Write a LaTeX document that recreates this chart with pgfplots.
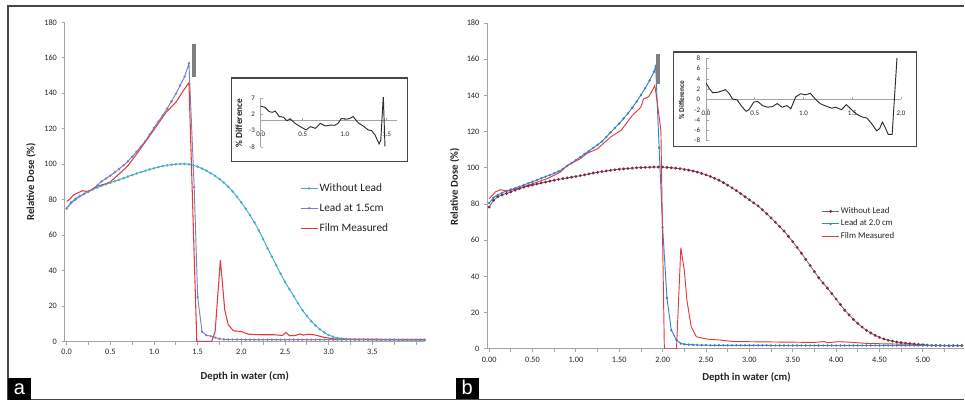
\documentclass[border=0pt]{standalone}
\usepackage{pgfplots}
\pgfplotsset{compat=1.18}
\usepackage{fontspec}
\setmainfont{Carlito}
\newfontfamily\arialf{Liberation Sans}
\definecolor{cyanA}{RGB}{75,172,198}
\definecolor{leadA}{RGB}{122,128,200}
\definecolor{redA}{RGB}{228,58,60}
\definecolor{maroonB}{RGB}{140,35,60}
\definecolor{lineB}{RGB}{110,100,105}
\definecolor{blueB}{RGB}{55,130,200}
\definecolor{axgray}{RGB}{165,165,165}
\definecolor{framegray}{RGB}{70,70,70}
\definecolor{txt}{RGB}{35,35,35}
\definecolor{insetc}{RGB}{45,45,45}
\pgfplotsset{
  mainax/.style={
    scale only axis, anchor=south west,
    axis x line*=bottom, axis y line*=left,
    axis line style={axgray, line width=0.8pt},
    tick style={axgray, line width=0.6pt},
    tick align=outside, major tick length=2.5pt, minor tick length=2.5pt,
    tick label style={font=\fontsize{6.2}{7}\selectfont, text=txt},
    /pgf/number format/assume math mode=true,
    label style={font=\bfseries\fontsize{8}{9}\selectfont, text=txt},
    ytick={0,20,...,180},
    legend cell align=left,
  },
  insetax/.style={
    scale only axis, anchor=south west,
    axis x line*=middle, axis y line*=left,
    axis line style={axgray, line width=0.6pt},
    tick style={axgray, line width=0.5pt},
    major tick length=2pt,
    hide obscured x ticks=false, hide obscured y ticks=false,
    tick label style={font=\fontsize{5.2}{6}\selectfont, text=txt},
    /pgf/number format/assume math mode=true,
    xticklabel style={/pgf/number format/fixed, /pgf/number format/fixed zerofill, /pgf/number format/precision=1, /tikz/yshift=-5pt},
    yticklabel style={/tikz/xshift=-1pt},
  },
  /pgfplots/legend image code/.code={\draw[mark repeat=2,mark phase=2,#1] plot coordinates {(0pt,0pt)(6.4pt,0pt)(12.8pt,0pt)};},
}
\begin{document}
\begin{tikzpicture}[x=1pt,y=1pt]
\path (0,0) rectangle (723.75,302.25);
\draw[framegray, line width=1pt] (723.75,297.75) -- (6,297.75) -- (6,2.25) -- (723.75,2.25);

% ---------------- panel a ----------------
\begin{axis}[mainax, at={(48.75pt,45.975pt)}, width=270pt, height=239.55pt,
  xmin=-0.02, xmax=4.1, ymin=0, ymax=180,
  xtick={0,0.5,1,1.5,2,2.5,3,3.5,4},
  xticklabels={0.0,0.5,1.0,1.5,2.0,2.5,3.0,3.5,{}},
  minor xtick={0.25,0.75,1.25,1.75,2.25,2.75,3.25,3.75},
  xlabel={Depth in water (cm)}, ylabel={Relative Dose (\%)},
  xlabel style={at={(axis description cs:0.5,-0.1106)}, anchor=center},
  ylabel style={at={(axis description cs:-0.0944,0.5)}, anchor=center},
  legend style={at={(0.653,0.5)}, anchor=north west, draw=none, fill=none,
    font=\fontsize{8.5}{9}\selectfont, text=txt, row sep=5.5pt, inner sep=0pt,
    nodes={inner sep=1pt}},
]
\addplot[cyanA, line width=0.7pt, mark=*, mark size=0.55pt] coordinates {
(0.0,75)(0.05,78.5)(0.1,80.5)(0.15,82.1)(0.2,83.3)(0.25,84.6)(0.3,85.8)(0.35,86.8)(0.4,87.8)(0.45,88.7)
(0.5,89.5)(0.55,90.35)(0.6,91.2)(0.65,92.1)(0.7,93)(0.75,93.85)(0.8,94.7)(0.85,95.5)(0.9,96.3)(0.95,97)
(1.0,97.7)(1.05,98.3)(1.1,98.9)(1.15,99.3)(1.2,99.7)(1.25,99.95)(1.3,100.1)(1.35,100.1)(1.4,99.9)(1.45,99.3)
(1.5,98.6)(1.55,97.5)(1.6,96.3)(1.65,94.9)(1.7,93.4)(1.75,91.6)(1.8,89.6)(1.85,87.2)(1.9,84.6)(1.95,81.6)
(2.0,78.4)(2.05,74.9)(2.1,71.2)(2.15,67.1)(2.2,62.7)(2.25,57.7)(2.3,52.6)(2.35,47.8)(2.4,43)(2.45,38.2)
(2.5,33.6)(2.55,29.5)(2.6,25.6)(2.65,21.5)(2.7,17.6)(2.75,14.4)(2.8,11.4)(2.85,9.0)(2.9,6.8)(2.95,5.0)
(3.0,3.6)(3.05,2.7)(3.1,2.0)(3.15,1.7)(3.2,1.4)(3.25,1.25)(3.3,1.1)(3.35,1.05)(3.4,1.0)(3.45,0.95)
(3.5,0.9)(3.55,0.9)(3.6,0.9)(3.65,0.9)(3.7,0.9)(3.75,0.85)(3.8,0.8)(3.85,0.8)(3.9,0.8)(3.95,0.8)
(4.0,0.8)(4.05,0.8)(4.1,0.8)};
\addlegendentry{Without Lead}
\addplot[leadA, line width=0.7pt, mark=*, mark size=0.5pt] coordinates {
(0,75)(0.05,78)(0.1,80)(0.15,81.8)(0.2,83.2)(0.25,84.6)(0.3,86)(0.35,88)(0.4,90.3)(0.45,91.9)
(0.5,93.5)(0.55,95.4)(0.6,97.3)(0.65,99.3)(0.7,101.5)(0.75,104.2)(0.8,107)(0.85,110)(0.9,113)(0.95,116.7)
(1.0,120.5)(1.05,124)(1.1,127.5)(1.15,131.3)(1.2,135.5)(1.25,139.7)(1.3,144.5)(1.35,149.3)(1.4,156.8)(1.46,87)
(1.50,25)(1.55,5.5)(1.6,3.5)(1.65,3)(1.7,2.2)(1.75,1.5)(1.8,1.2)(1.85,1.1)(1.9,1.1)(1.95,1.1)
(2.0,1.1)(2.05,1.0)(2.1,1.0)(2.15,1.0)(2.2,1.0)(2.25,1.0)(2.3,1.0)(2.35,1.0)(2.4,1.0)(2.45,1.0)
(2.5,1.0)(2.55,1.0)(2.6,1.0)(2.65,1.0)(2.7,1.0)(2.75,1.0)(2.8,1.0)(2.85,1.0)(2.9,1.0)(2.95,1.0)
(3.0,1.0)(3.05,1.0)(3.1,1.0)(3.15,1.0)(3.2,1.0)(3.25,1.0)(3.3,1.0)(3.35,1.0)(3.4,1.0)(3.45,1.0)
(3.5,1.0)(3.55,1.0)(3.6,1.0)(3.65,1.0)(3.7,1.0)(3.75,1.0)(3.8,1.0)(3.85,1.0)(3.9,1.0)(3.95,1.0)
(4.0,1.0)(4.05,1.0)(4.1,1.0)};
\addlegendentry{Lead at 1.5cm}
\addplot[redA, line width=0.8pt] coordinates {
(0,79)(0.03,80)(0.08,82.7)(0.18,85)(0.25,84.5)(0.35,87.7)(0.42,88.5)(0.5,90)(0.61,94.9)(0.7,99)
(0.835,108)(0.95,116)(1.064,124)(1.14,129.3)(1.255,135.2)(1.33,141)(1.40,146)(1.49,0)(1.66,0)
(1.70,5.6)(1.76,46)(1.81,17.8)(1.85,9.4)(1.91,6)(2.0,5.6)(2.08,4.1)(2.22,3.8)(2.37,3.8)(2.47,3.4)
(2.51,5.1)(2.55,3.2)(2.62,3.4)(2.67,4.3)(2.71,3.6)(2.77,4.1)(2.85,3.6)(2.94,2.4)(3.06,1.5)(3.29,1.3)(4.09,1.1)};
\addlegendentry{Film Measured}
\addplot[gray, line width=3pt, forget plot] coordinates {(1.455,149)(1.455,168)};
\end{axis}

% inset a
\draw[framegray, line width=0.9pt, fill=white] (174,243.75) rectangle (306,180.75);
\begin{axis}[insetax, at={(195.75pt,192pt)}, width=102pt, height=36.75pt,
  xmin=0, xmax=1.62, ymin=-8, ymax=7,
  xtick={0,0.5,1,1.5}, ytick={-8,-3,2,7},
  ylabel={\% Difference},
  ylabel style={at={(axis description cs:-0.162,0.49)}, anchor=center, font=\bfseries\fontsize{7}{8}\selectfont, text=txt},
]
\addplot[insetc, line width=0.7pt] coordinates {
(0,4.5)(0.05,4.1)(0.10,2.8)(0.14,2.6)(0.17,3.0)(0.22,1.3)(0.27,1.1)(0.31,0.0)(0.35,0.6)(0.41,-0.8)
(0.47,-1.8)(0.54,-2.8)(0.59,-1.8)(0.65,-2.3)(0.71,-0.8)(0.77,-1.6)(0.83,-1.3)(0.88,-1.4)(0.92,-0.8)(0.96,0.7)
(1.02,0.5)(1.06,0.7)(1.10,1.3)(1.16,-0.6)(1.22,-1.6)(1.28,-2.8)(1.32,-3)(1.36,-4.3)(1.41,-7.1)(1.43,-5.9)
(1.46,7.6)(1.48,-7.9)};
\end{axis}

% ---------------- panel b ----------------
\begin{axis}[mainax, at={(365.8pt,40.5pt)}, width=358.05pt, height=244.5pt,
  xmin=-0.02, xmax=5.48, ymin=0, ymax=180,
  xtick={0,0.5,1,1.5,2,2.5,3,3.5,4,4.5,5},
  xticklabels={0.00,0.50,1.00,1.50,2.00,2.50,3.00,3.50,4.00,4.50,5.00},
  minor xtick={0.25,0.75,1.25,1.75,2.25,2.75,3.25,3.75,4.25,4.75,5.25},
  xlabel={Depth in water (cm)}, ylabel={Relative Dose (\%)},
  xlabel style={at={(axis description cs:0.543,-0.089)}, anchor=center},
  ylabel style={at={(axis description cs:-0.0684,0.497)}, anchor=center},
  legend style={at={(0.700,0.439)}, anchor=north west, draw=none, fill=none,
    font=\fontsize{6.6}{7}\selectfont, text=txt, row sep=1.3pt, inner sep=0pt,
    nodes={inner sep=1pt}},
]
\addplot[lineB, line width=0.6pt, mark=*, mark size=0.75pt, mark options={maroonB, fill=maroonB}] coordinates {
(0.0,78.3)(0.05,82)(0.1,84)(0.15,85)(0.2,85.8)(0.25,86.7)(0.3,87.6)(0.35,88.5)(0.4,89.3)(0.45,89.9)
(0.5,90.5)(0.55,91.05)(0.6,91.6)(0.65,92.1)(0.7,92.6)(0.75,93.1)(0.8,93.6)(0.85,94.0)(0.9,94.4)(0.95,94.8)
(1.0,95.2)(1.05,95.65)(1.1,96.1)(1.15,96.6)(1.2,97.1)(1.25,97.5)(1.3,97.9)(1.35,98.25)(1.4,98.6)(1.45,98.9)
(1.5,99.2)(1.55,99.4)(1.6,99.6)(1.65,99.8)(1.7,100)(1.75,100.1)(1.8,100.2)(1.85,100.3)(1.9,100.4)(1.95,100.4)
(2.0,100.4)(2.05,100.2)(2.1,100)(2.15,99.8)(2.2,99.5)(2.25,99.1)(2.3,98.7)(2.35,98.2)(2.4,97.6)(2.45,96.9)
(2.5,96.1)(2.55,95.2)(2.6,94.2)(2.65,93.1)(2.7,91.8)(2.75,90.4)(2.8,88.9)(2.85,87.4)(2.9,85.7)(2.95,84.0)
(3.0,82.3)(3.05,80.6)(3.1,78.9)(3.15,76.8)(3.2,74.6)(3.25,72.3)(3.3,69.9)(3.35,67.5)(3.4,65)(3.45,62.1)
(3.5,59.2)(3.55,56)(3.6,52.8)(3.65,49.4)(3.7,46)(3.75,42.6)(3.8,39.2)(3.85,36.3)(3.9,33.5)(3.95,30.5)
(4.0,27.5)(4.05,24.4)(4.1,21.3)(4.15,18.7)(4.2,16.2)(4.25,14)(4.3,12)(4.35,10.2)(4.4,8.7)(4.45,7.4)
(4.5,6.3)(4.55,5.4)(4.6,4.7)(4.65,4.2)(4.7,3.7)(4.75,3.4)(4.8,3.1)(4.85,2.85)(4.9,2.6)(4.95,2.4)
(5.0,2.2)(5.05,2.05)(5.1,1.9)(5.15,1.85)(5.2,1.8)(5.25,1.75)(5.3,1.7)(5.35,1.7)(5.4,1.7)(5.45,1.7)};
\addlegendentry{Without Lead}
\addplot[blueB, line width=0.7pt, mark=*, mark size=0.5pt] coordinates {
(0,80.5)(0.05,83.5)(0.1,85)(0.15,86.2)(0.2,87.2)(0.25,88)(0.3,88.7)(0.35,89.6)(0.4,90.5)(0.45,91.4)
(0.5,92.3)(0.55,93.2)(0.6,94.2)(0.65,95.1)(0.7,96)(0.75,97)(0.8,98)(0.85,99.4)(0.9,101)(0.95,102.6)
(1.0,104.3)(1.05,105.9)(1.1,107.6)(1.15,109.3)(1.2,111)(1.25,112.7)(1.3,114.5)(1.35,117)(1.4,119.5)(1.45,122)
(1.5,124.5)(1.55,127.2)(1.6,130)(1.65,133.2)(1.7,136.5)(1.75,140.2)(1.8,144)(1.85,148.3)(1.9,153)(1.92,156)
(1.96,111)(2.0,67)(2.05,28)(2.1,10.3)(2.16,4.8)(2.21,2.9)(2.25,2.5)(2.3,2.3)(2.35,2.2)(2.4,2.1)
(2.45,2.0)(2.5,2.0)(2.55,1.9)(2.6,1.9)(2.65,1.9)(2.7,1.9)(2.75,1.9)(2.8,1.9)(2.85,1.9)(2.9,1.9)
(2.95,1.9)(3.0,1.9)(3.05,1.9)(3.1,1.9)(3.15,1.9)(3.2,1.9)(3.25,1.8)(3.3,1.8)(3.35,1.8)(3.4,1.8)
(3.45,1.8)(3.5,1.8)(3.55,1.8)(3.6,1.8)(3.65,1.8)(3.7,1.8)(3.75,1.8)(3.8,1.8)(3.85,1.8)(3.9,1.8)
(3.95,1.8)(4.0,1.8)(4.05,1.8)(4.1,1.8)(4.15,1.8)(4.2,1.8)(4.25,1.8)(4.3,1.8)(4.35,1.8)(4.4,1.8)
(4.45,1.8)(4.5,1.8)(4.55,1.8)(4.6,1.8)(4.65,1.8)(4.7,1.8)(4.75,1.8)(4.8,1.8)(4.85,1.8)(4.9,1.8)
(4.95,1.8)(5.0,1.8)(5.05,1.8)(5.1,1.8)(5.15,1.8)(5.2,1.8)(5.25,1.8)(5.3,1.8)(5.35,1.8)(5.4,1.8)(5.45,1.8)};
\addlegendentry{Lead at 2.0 cm}
\addplot[redA, line width=0.7pt] coordinates {
(0,82.9)(0.07,86.6)(0.13,87.9)(0.21,87.1)(0.36,89)(0.52,91.5)(0.67,94)(0.82,97.6)(0.9,101.3)(1.05,105)
(1.13,108)(1.25,110.5)(1.4,117)(1.52,120.6)(1.65,128.9)(1.75,133.5)(1.78,138)(1.84,139.3)(1.87,141.7)(1.91,145.4)
(1.93,139)(1.98,120.6)(2.02,0)(2.16,0)(2.21,55.9)(2.25,43.4)(2.28,26.8)(2.33,12.1)(2.39,6.6)(2.52,5.3)
(2.67,4.8)(2.82,4.0)(2.98,3.9)(3.36,3.7)(3.75,3.5)(3.86,4.0)(3.9,3.3)(4.02,3.9)(4.13,3.7)(4.37,2.9)
(4.71,2.6)(5.02,2.4)};
\addlegendentry{Film Measured}
\addplot[gray, line width=3pt, forget plot] coordinates {(1.947,146.2)(1.947,162.8)};
\end{axis}

% inset b
\draw[framegray, line width=0.9pt, fill=white] (505.5,263.25) rectangle (687.75,192);
\begin{axis}[insetax, at={(529.9pt,196.7pt)}, width=146.25pt, height=61.8pt,
  xmin=0, xmax=2.0, ymin=-8, ymax=8,
  xtick={0,0.5,1,1.5,2}, ytick={-8,-6,...,8},
  ylabel={\% Difference},
  ylabel style={at={(axis description cs:-0.126,0.494)}, anchor=center, font=\bfseries\fontsize{5.5}{6}\selectfont, text=txt},
]
\addplot[insetc, line width=0.7pt] coordinates {
(0,3.2)(0.034,2.1)(0.068,1.3)(0.12,1.4)(0.17,1.7)(0.20,1.9)(0.24,1.1)(0.27,0.1)(0.32,-0.1)(0.36,-1.2)
(0.41,-2.3)(0.44,-2.0)(0.49,-0.5)(0.53,-0.4)(0.58,-1.2)(0.63,-1.5)(0.68,-1.4)(0.73,-0.8)(0.78,-1.5)(0.83,-1.2)
(0.87,-1.8)(0.92,0.5)(0.97,1.1)(1.02,0.9)(1.07,1.2)(1.12,0.1)(1.17,-0.8)(1.22,-1.2)(1.29,-1.7)(1.33,-1.5)
(1.39,-2.0)(1.44,-1.0)(1.50,-2.1)(1.55,-2.9)(1.60,-3.4)(1.65,-3.6)(1.70,-4.7)(1.75,-6.1)(1.78,-5.7)(1.81,-4.4)
(1.84,-5.5)(1.87,-6.8)(1.91,-6.8)(1.96,8.2)};
\end{axis}

% panel letters
\fill[black] (6,2.25) rectangle (23.25,18.75);
\node[text=white, font=\arialf\fontsize{15}{15}\selectfont] at (14.6,10.5) {a};
\fill[black] (342,3) rectangle (359.25,18.75);
\node[text=white, font=\arialf\fontsize{15}{15}\selectfont] at (350.6,11.2) {b};
\end{tikzpicture}
\end{document}
